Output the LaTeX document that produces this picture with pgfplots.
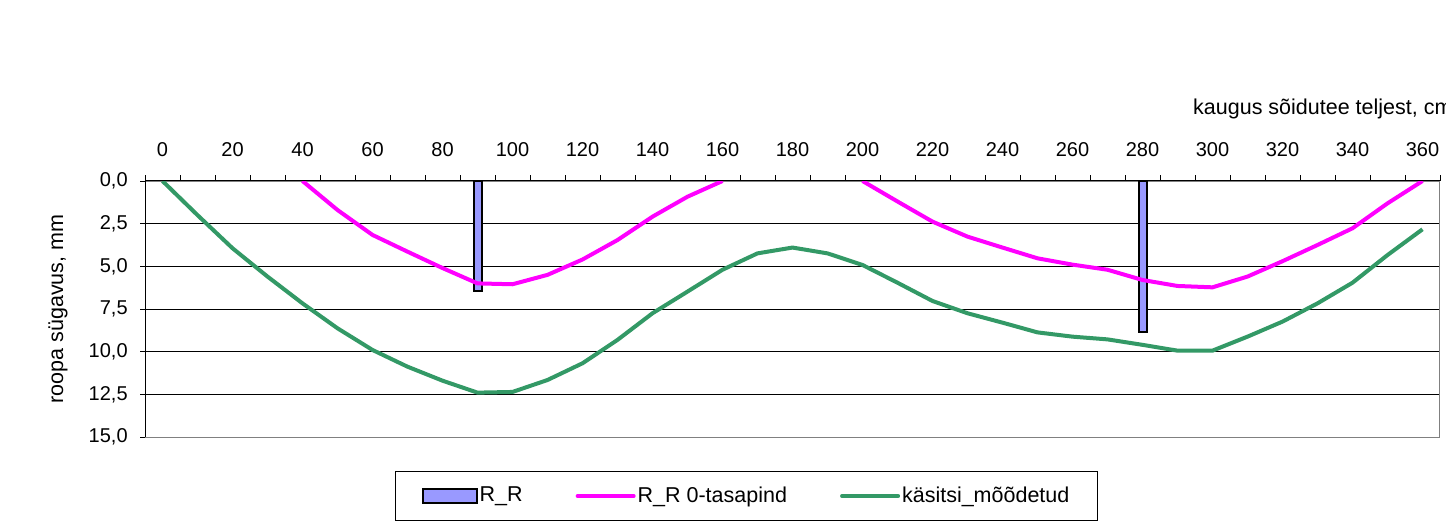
\documentclass[border=0pt]{standalone}
\usepackage{pgfplots}
\pgfplotsset{compat=1.18}
\usepackage{fontspec}
\setmainfont{Liberation Sans}
\definecolor{barblue}{HTML}{9999FF}
\definecolor{rmag}{HTML}{FF00FF}
\definecolor{kgreen}{HTML}{339966}
\definecolor{framegray}{HTML}{808080}
\begin{document}
\fontsize{21.5pt}{25pt}\selectfont
\begin{tikzpicture}
\useasboundingbox (0,0) rectangle (1446pt,528pt);
\begin{axis}[
  at={(792.5pt,219pt)}, anchor=center,
  scale only axis, width=1295pt, height=256pt,
  xmin=-5, xmax=365, ymin=0, ymax=15, y dir=reverse,
  xtick={0,20,...,360}, minor xtick={-5,5,...,365},
  major x tick style={draw=none},
  minor tick length=6pt, major tick length=5pt,
  tick align=outside,
  xtick pos=right, xticklabel pos=right,
  ytick pos=left,
  ytick={0,2.5,...,15},
  tick style={black, line width=0.8pt},
  ticklabel style={font=\fontsize{20pt}{24pt}\selectfont},
  yticklabel style={xshift=-5pt, /pgf/number format/.cd, fixed, fixed zerofill, precision=1, use comma},
  xticklabel style={yshift=12pt, /pgf/number format/.cd, fixed, precision=0},
  /pgf/number format/assume math mode=true,
  ymajorgrids,
  major grid style={black, line width=0.8pt},
  axis line style={framegray, line width=1pt},
  legend columns=3,
  legend style={at={(0.4645,-0.2305)}, anchor=center, draw=black, line width=1pt,
    font=\fontsize{21.5pt}{25pt}\selectfont,
    nodes={inner sep=2pt},
    /tikz/every even column/.append style={column sep=51pt},
    inner xsep=26pt, inner ysep=13pt},
  unbounded coords=jump,
]
\addplot[ybar, bar width=8pt, fill=barblue, draw=black, line width=2pt,
  legend image code/.code={\draw[fill=barblue, draw=black, line width=2pt] (0pt,-7pt) rectangle (54pt,7pt);}]
  coordinates {(90,6.44) (280,8.83)};
\addlegendentry{R\_R}
\addplot[rmag, line width=4pt, line join=round,
  legend image code/.code={\draw[rmag, line width=4pt, line cap=round] (0pt,0pt) -- (56pt,0pt);}]
  coordinates {
  (40,0) (50,1.7) (60,3.16) (70,4.14) (80,5.1) (90,6.0) (100,6.05) (110,5.5)
  (120,4.6) (130,3.46) (140,2.09) (150,0.92) (160,0)
  (180,nan)
  (200,0) (210,1.2) (220,2.38) (230,3.26) (240,3.9) (250,4.53) (260,4.9)
  (270,5.2) (280,5.8) (290,6.15) (300,6.23) (310,5.6) (320,4.7) (330,3.75)
  (340,2.77) (350,1.31) (360,0)};
\addlegendentry{R\_R 0-tasapind}
\addplot[kgreen, line width=4pt, line join=round,
  legend image code/.code={\draw[kgreen, line width=4pt, line cap=round] (0pt,0pt) -- (56pt,0pt);}]
  coordinates {
  (0,0) (10,2.0) (20,3.94) (30,5.6) (40,7.17) (50,8.63) (60,9.9) (70,10.88)
  (80,11.7) (90,12.4) (100,12.36) (110,11.66) (120,10.68) (130,9.31)
  (140,7.75) (150,6.48) (160,5.2) (170,4.24) (180,3.9) (190,4.24) (200,4.92)
  (210,5.96) (220,7.03) (230,7.75) (240,8.3) (250,8.87) (260,9.12) (270,9.28)
  (280,9.6) (290,9.94) (300,9.94) (310,9.12) (320,8.24) (330,7.17) (340,5.96)
  (350,4.34) (360,2.83)};
\addlegendentry{käsitsi\_mõõdetud}
\end{axis}
\draw[black, line width=1pt] (145pt,91pt) -- (145pt,347pt) -- (1440pt,347pt);
\node[anchor=base west, inner sep=0pt] at (1193pt,413pt) {kaugus sõidutee teljest, cm};
\node[rotate=90, anchor=base, inner sep=0pt] at (63pt,219pt) {roopa sügavus, mm};
\end{tikzpicture}
\end{document}
